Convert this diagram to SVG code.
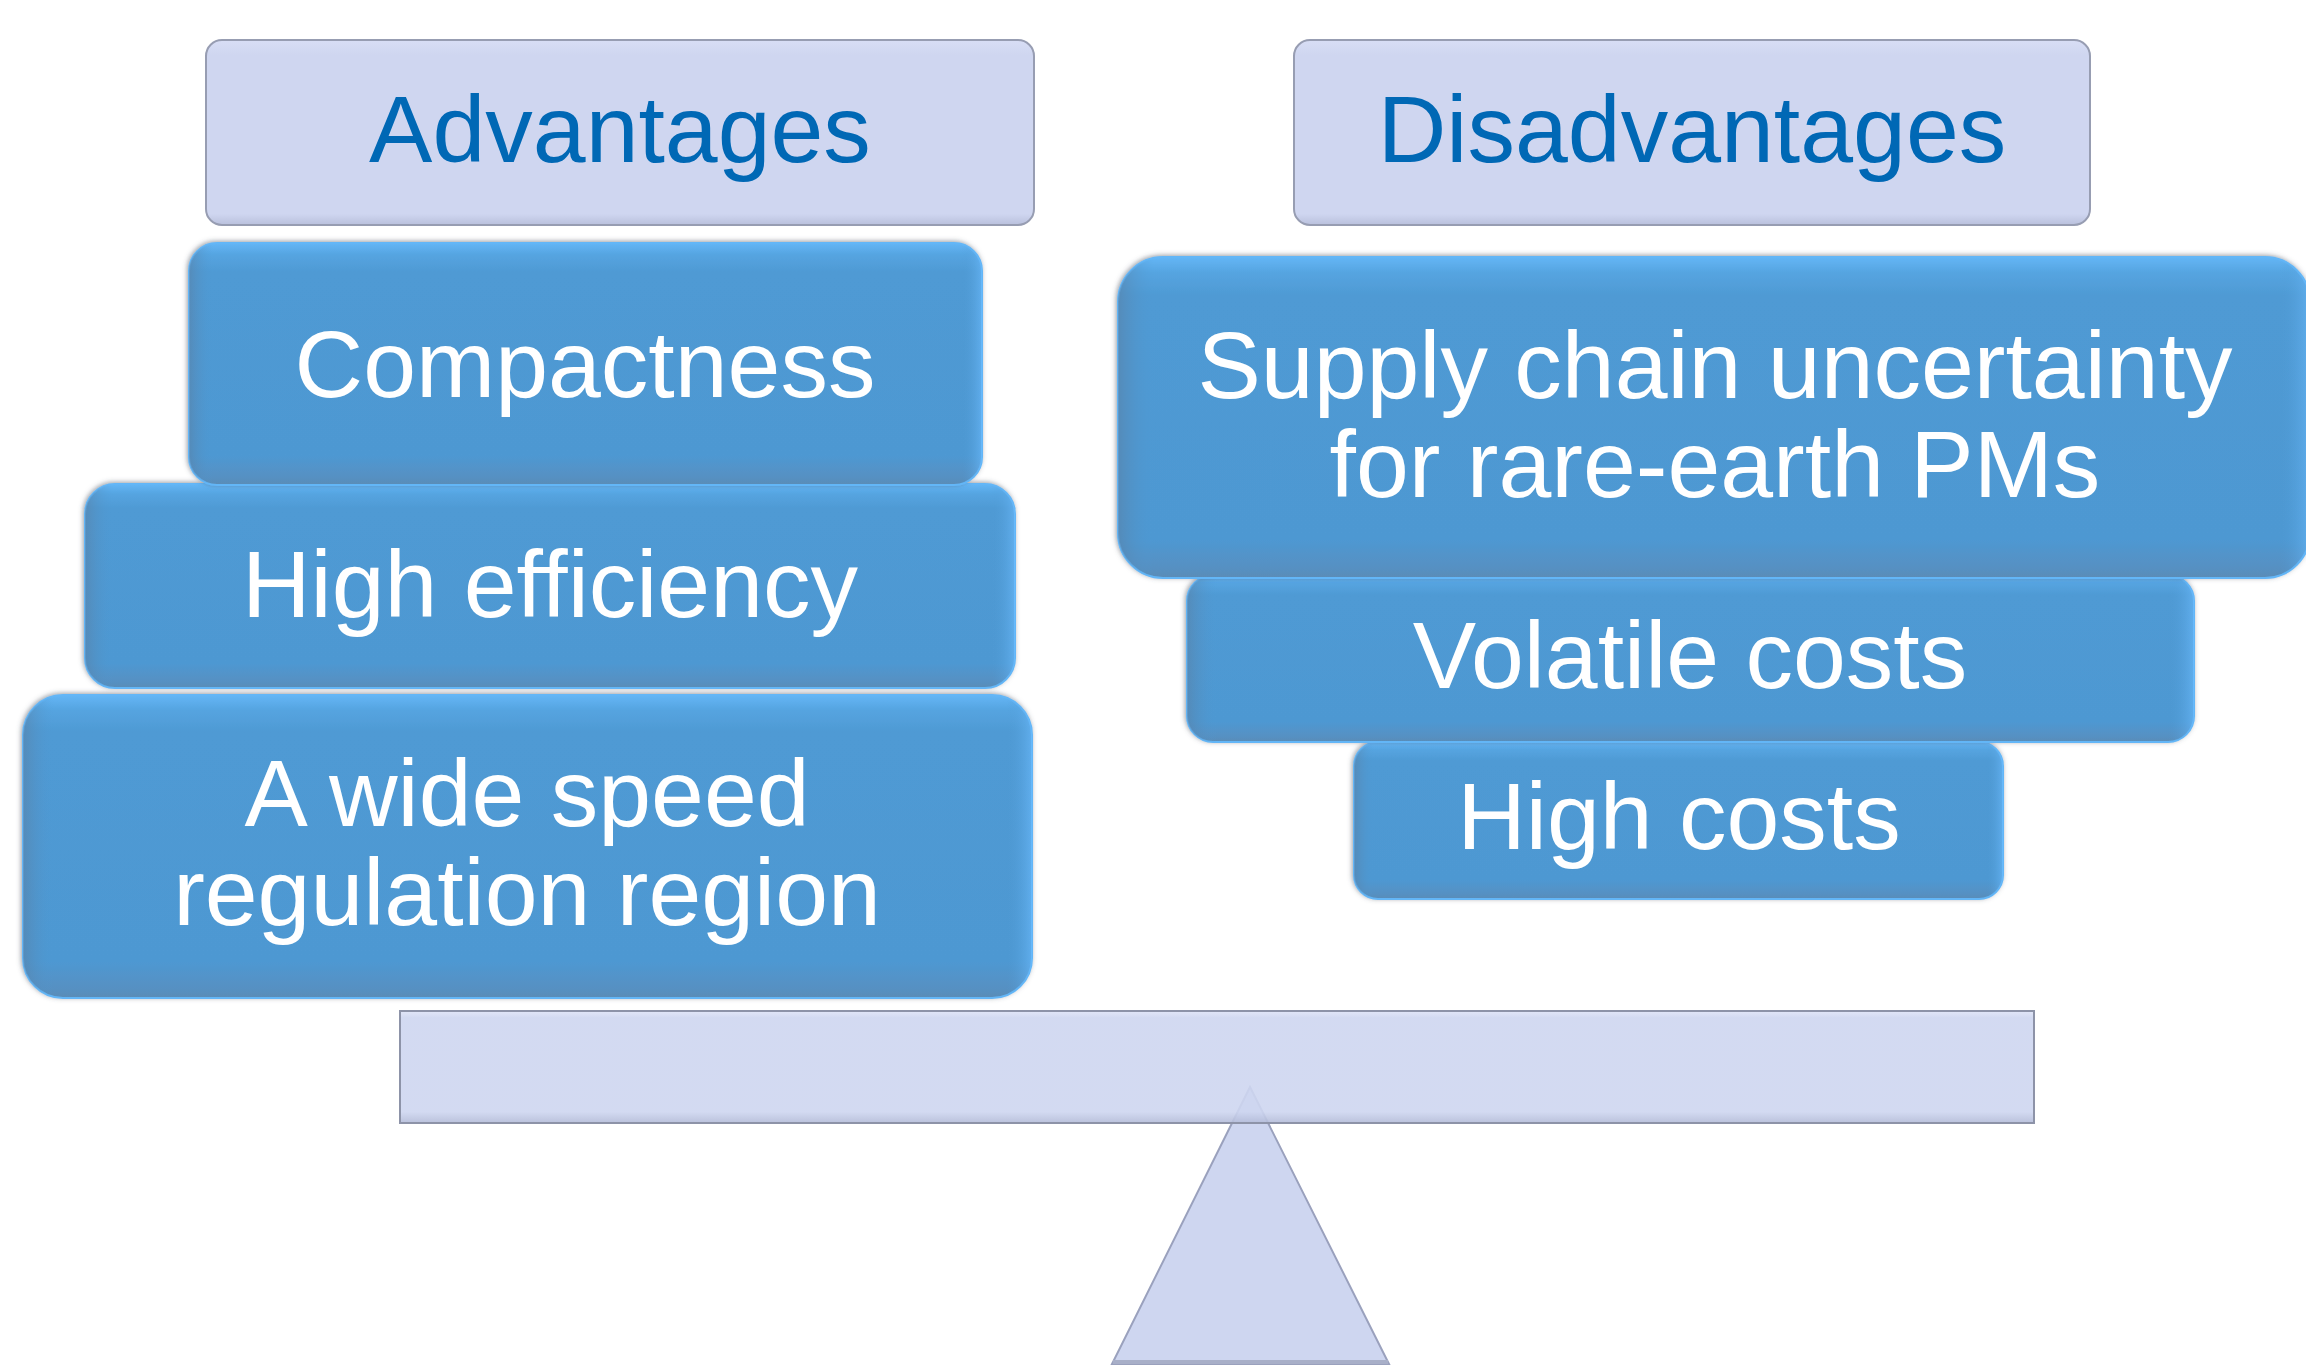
<svg xmlns="http://www.w3.org/2000/svg" width="2306" height="1366" viewBox="0 0 2306 1366">
  <defs>
    <style>
      .hdr { fill: url(#hdrFill); stroke: #979db2; stroke-width: 2; }
      .hdr-t { font-family: "Liberation Sans", Arial, sans-serif; font-size: 95px; fill: #0068b5; text-anchor: middle; }
      .blk { fill: url(#blkFill); stroke: #63b6f7; stroke-width: 2; filter: url(#edge); }
      .blk-shade { fill: url(#blkSide); pointer-events: none; }
      .blk-t { font-family: "Liberation Sans", Arial, sans-serif; font-size: 95px; fill: #ffffff; text-anchor: middle; }
      .lav { fill: #ced6f0; }
    </style>
    <linearGradient id="hdrFill" x1="0" y1="0" x2="0" y2="1">
      <stop offset="0" stop-color="#d8def5"/>
      <stop offset="0.08" stop-color="#cfd6f0"/>
      <stop offset="0.94" stop-color="#cfd6f0"/>
      <stop offset="1" stop-color="#b9c0dc"/>
    </linearGradient>
    <linearGradient id="blkFill" x1="0" y1="0" x2="0" y2="1">
      <stop offset="0" stop-color="#64b6f6"/>
      <stop offset="0.05" stop-color="#55a4e0"/>
      <stop offset="0.12" stop-color="#4f9ad4"/>
      <stop offset="0.88" stop-color="#4e98d2"/>
      <stop offset="0.97" stop-color="#5690c2"/>
      <stop offset="1" stop-color="#5b8cb6"/>
    </linearGradient>
    <linearGradient id="blkSide" x1="0" y1="0" x2="1" y2="0">
      <stop offset="0" stop-color="#5a7fa3" stop-opacity="0.55"/>
      <stop offset="0.03" stop-color="#4f9ad4" stop-opacity="0"/>
      <stop offset="0.975" stop-color="#4f9ad4" stop-opacity="0"/>
      <stop offset="1" stop-color="#6cbcff" stop-opacity="0.6"/>
    </linearGradient>
    <linearGradient id="beamFill" x1="0" y1="0" x2="0" y2="1">
      <stop offset="0" stop-color="#dfe4f7"/>
      <stop offset="0.06" stop-color="#ced6f0"/>
      <stop offset="0.9" stop-color="#ced6f0"/>
      <stop offset="1" stop-color="#b3bbd8"/>
    </linearGradient>
    <filter id="edge" x="-5%" y="-10%" width="110%" height="120%">
      <feGaussianBlur in="SourceAlpha" stdDeviation="2.5" result="b"/>
      <feOffset in="b" dx="-1.5" dy="-1.5" result="o"/>
      <feFlood flood-color="#4a5260" flood-opacity="0.55"/>
      <feComposite in2="o" operator="in" result="s"/>
      <feMerge>
        <feMergeNode in="s"/>
        <feMergeNode in="SourceGraphic"/>
      </feMerge>
    </filter>
  </defs>

  <!-- pivot sits behind the beam; its tip shows faintly through -->
  <g id="pivot">
    <polygon points="1250,1087 1112,1364 1389,1364" class="lav" stroke="#9aa1bd" stroke-width="2"/>
    <line x1="1113" y1="1362" x2="1388" y2="1362" stroke="#a8afc8" stroke-width="4"/>
  </g>
  <g id="beam">
    <rect x="400" y="1011" width="1634" height="112" fill="url(#beamFill)" fill-opacity="0.9" stroke="#8d93a8" stroke-width="2"/>
  </g>

  <!-- header labels -->
  <g id="advantages">
    <rect class="hdr" x="206" y="40" width="828" height="185" rx="16"/>
    <text class="hdr-t" x="620" y="162">Advantages</text>
  </g>
  <g id="disadvantages">
    <rect class="hdr" x="1294" y="40" width="796" height="185" rx="16"/>
    <text class="hdr-t" x="1692" y="162">Disadvantages</text>
  </g>

  <!-- advantages stack, bottom block first -->
  <g id="wide-speed">
    <rect class="blk" x="23" y="695" width="1009" height="303" rx="40"/>
    <rect class="blk-shade" x="23" y="695" width="1009" height="303" rx="40"/>
    <text class="blk-t" x="527" y="826">A wide speed</text>
    <text class="blk-t" x="527" y="925">regulation region</text>
  </g>
  <g id="high-efficiency">
    <rect class="blk" x="85" y="484" width="930" height="204" rx="30"/>
    <rect class="blk-shade" x="85" y="484" width="930" height="204" rx="30"/>
    <text class="blk-t" x="550" y="617">High efficiency</text>
  </g>
  <g id="compactness">
    <rect class="blk" x="189" y="243" width="793" height="242" rx="28"/>
    <rect class="blk-shade" x="189" y="243" width="793" height="242" rx="28"/>
    <text class="blk-t" x="585" y="397">Compactness</text>
  </g>

  <!-- disadvantages stack, bottom block first -->
  <g id="high-costs">
    <rect class="blk" x="1354" y="742" width="649" height="157" rx="24"/>
    <rect class="blk-shade" x="1354" y="742" width="649" height="157" rx="24"/>
    <text class="blk-t" x="1679" y="849">High costs</text>
  </g>
  <g id="volatile-costs">
    <rect class="blk" x="1187" y="575" width="1007" height="167" rx="26"/>
    <rect class="blk-shade" x="1187" y="575" width="1007" height="167" rx="26"/>
    <text class="blk-t" x="1690" y="688">Volatile costs</text>
  </g>
  <g id="supply-chain">
    <rect class="blk" x="1118" y="257" width="1192" height="321" rx="45"/>
    <rect class="blk-shade" x="1118" y="257" width="1192" height="321" rx="45"/>
    <text class="blk-t" x="1715" y="398">Supply chain uncertainty</text>
    <text class="blk-t" x="1715" y="497">for rare-earth PMs</text>
  </g>

  <g id="connectors"></g>
</svg>
